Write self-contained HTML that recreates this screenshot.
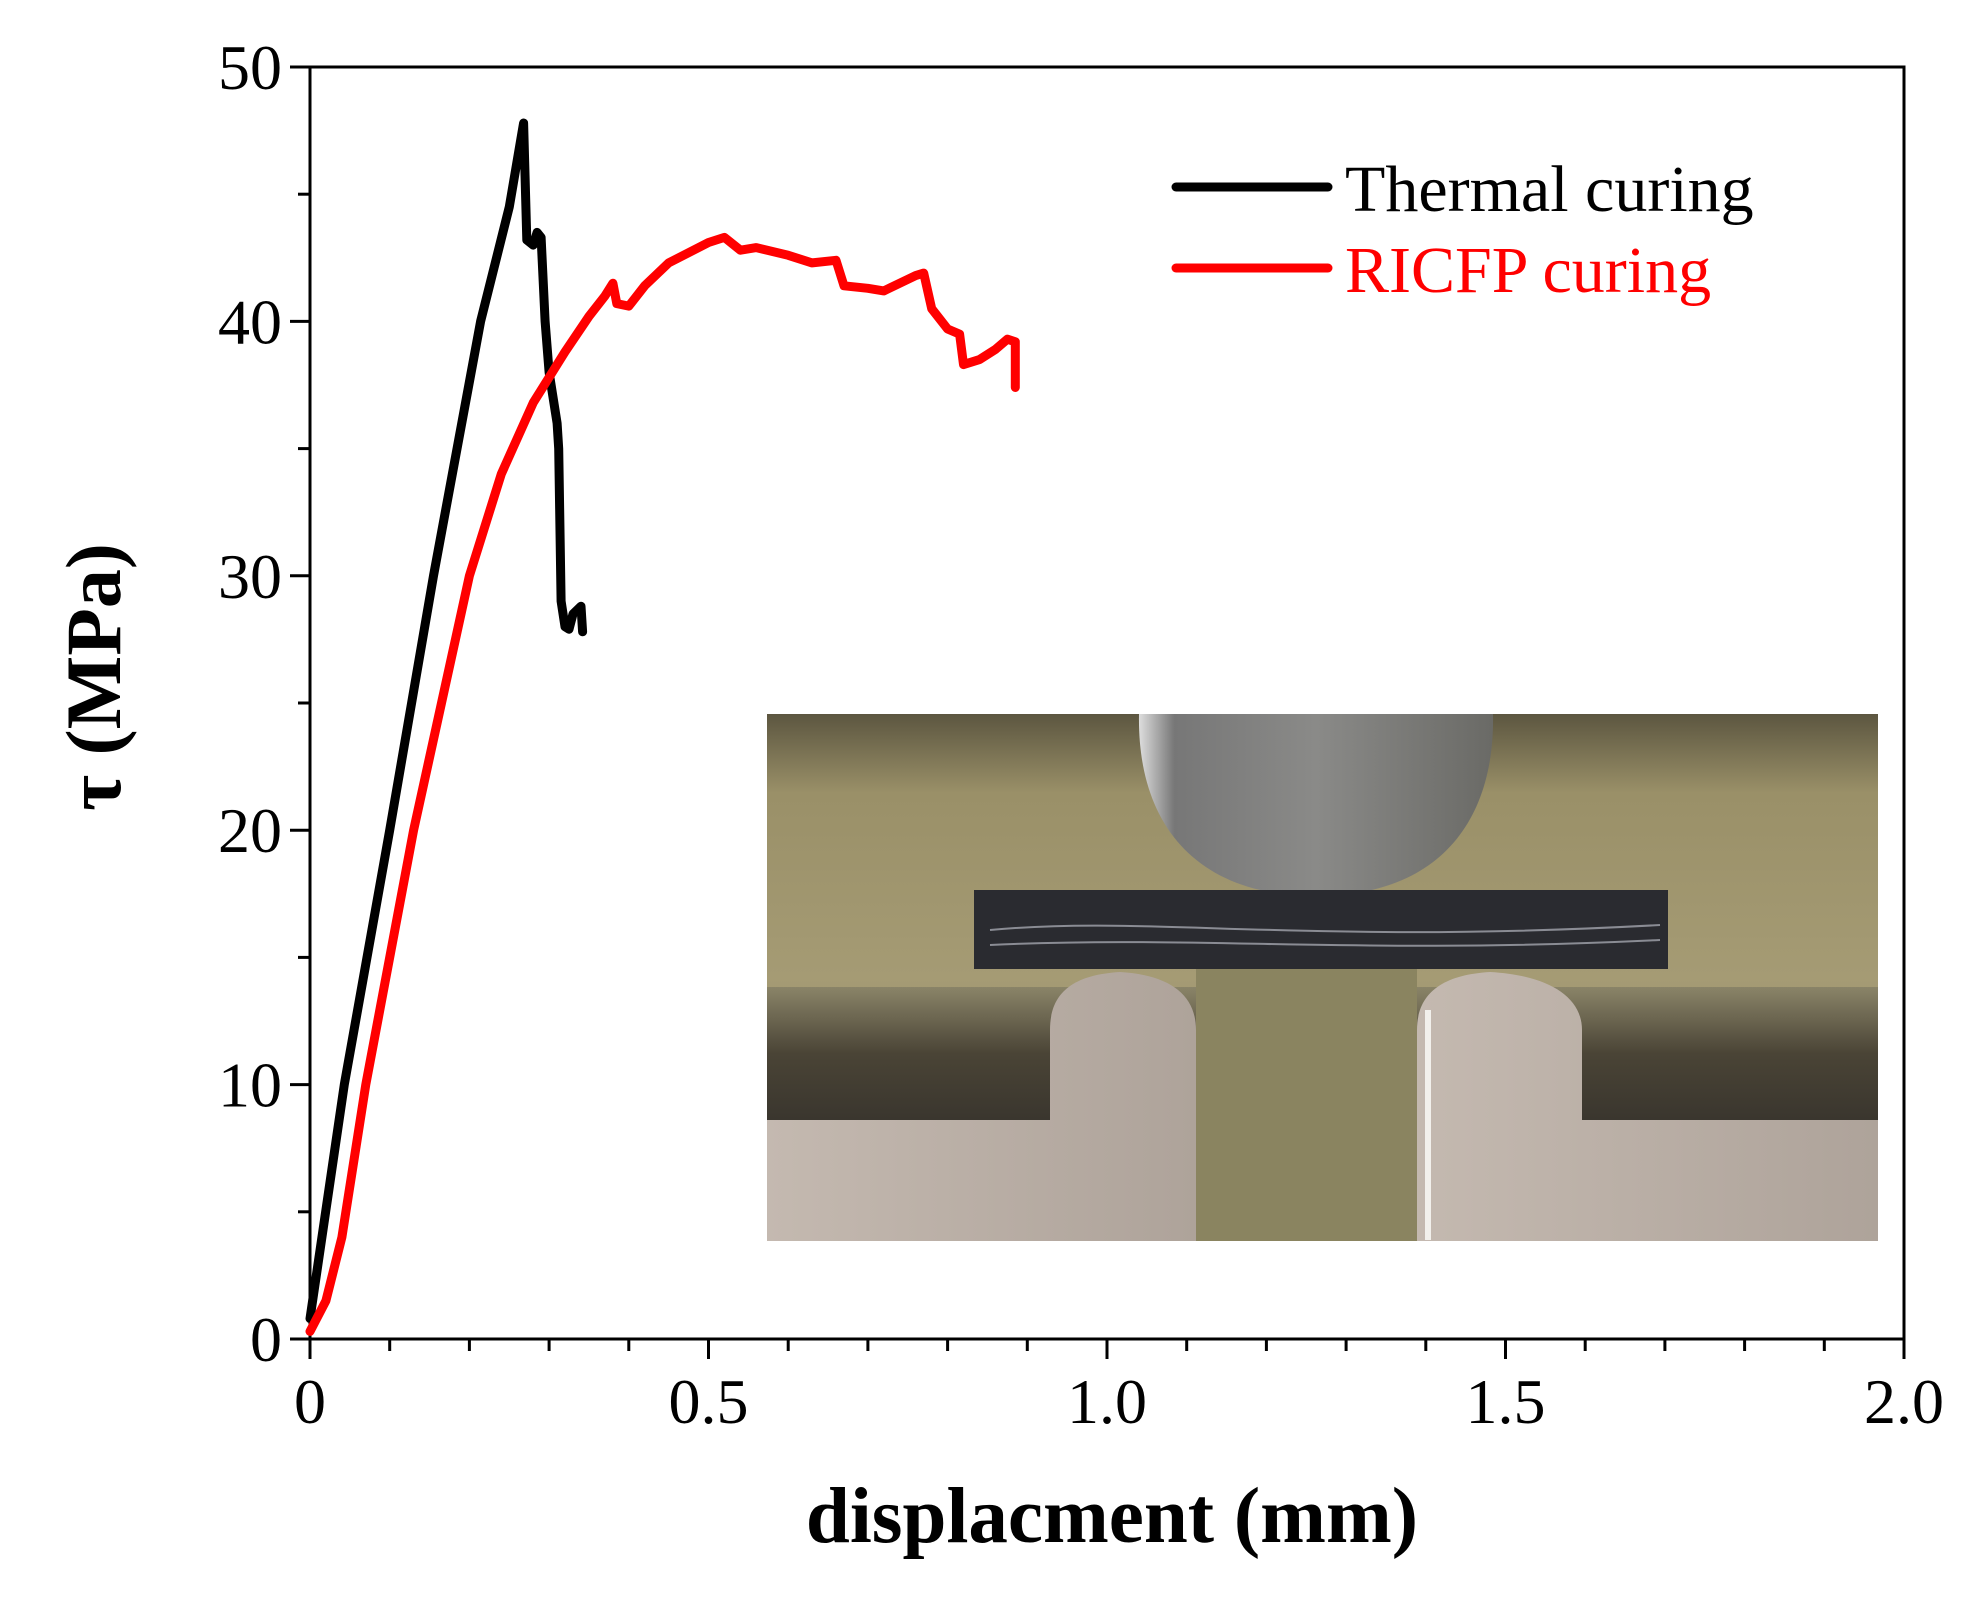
<!DOCTYPE html>
<html><head><meta charset="utf-8"><style>
html,body{margin:0;padding:0;background:#fff;}
svg{display:block;}
text{font-family:"Liberation Serif",serif;}
</style></head><body>
<svg id="chart" width="1984" height="1599" viewBox="0 0 1984 1599" xmlns="http://www.w3.org/2000/svg">
<defs>
<linearGradient id="bg" x1="0" y1="0" x2="0" y2="1"><stop offset="0" stop-color="#5c5640"/><stop offset="0.15" stop-color="#9a9068"/><stop offset="0.5" stop-color="#a59b74"/><stop offset="1" stop-color="#8c8460"/></linearGradient>
<linearGradient id="band" x1="0" y1="0" x2="0" y2="1"><stop offset="0" stop-color="#8a8468"/><stop offset="0.5" stop-color="#4a4436"/><stop offset="1" stop-color="#3a362e"/></linearGradient>
<linearGradient id="nose" x1="0" y1="0" x2="1" y2="0"><stop offset="0" stop-color="#ddd"/><stop offset="0.1" stop-color="#777"/><stop offset="0.5" stop-color="#8a8a88"/><stop offset="1" stop-color="#6a6a66"/></linearGradient>
<linearGradient id="metal" x1="0" y1="0" x2="1" y2="0"><stop offset="0" stop-color="#c4b9b0"/><stop offset="1" stop-color="#aea39a"/></linearGradient>
</defs>
<g id="inset-photo">
<rect x="767" y="714" width="1111" height="527" fill="url(#bg)"/>
<rect x="767" y="987" width="1111" height="133" fill="url(#band)"/>
<rect x="1196" y="960" width="221" height="281" fill="#8a8460"/>
<path d="M1139,714 L1493,714 C1495,820 1440,896 1316,896 C1192,896 1137,820 1139,714Z" fill="url(#nose)"/>
<rect x="974" y="890" width="694" height="79" fill="#2a2b30"/>
<path d="M990,930 C1150,915 1300,945 1660,925 M990,945 C1200,935 1350,955 1660,940" stroke="#8a8c94" stroke-width="2" fill="none"/>
<path d="M767,1120 L1050,1120 L1050,1030 C1050,995 1070,975 1120,972 C1170,975 1196,995 1196,1030 L1196,1241 L767,1241Z" fill="url(#metal)"/>
<path d="M1417,1241 L1417,1030 C1417,995 1440,975 1490,972 C1545,975 1582,995 1582,1030 L1582,1120 L1878,1120 L1878,1241Z" fill="url(#metal)"/>
<rect x="1425" y="1010" width="6" height="230" fill="#f2f0ec"/>
</g>
<g id="axes"></g>
<g id="series"></g>
<g id="legend">
<line x1="1176" y1="187" x2="1328" y2="187" stroke="#000" stroke-width="9" stroke-linecap="round"/>
<text x="1345" y="211" font-size="66" fill="#000">Thermal curing</text>
<line x1="1176" y1="268" x2="1328" y2="268" stroke="#ff0000" stroke-width="9" stroke-linecap="round"/>
<text x="1345" y="292" font-size="66" fill="#ff0000">RICFP curing</text>
</g>
<text x="1112" y="1542" font-size="79" font-weight="bold" text-anchor="middle">displacment (mm)</text>
<text transform="translate(120,677) rotate(-90)" font-size="78" font-weight="bold" text-anchor="middle">τ (MPa)</text>
</svg>
<script>
const xTicks = [0, 0.5, 1.0, 1.5, 2.0];
const xTickLabels = ["0", "0.5", "1.0", "1.5", "2.0"];
const yTicks = [0, 10, 20, 30, 40, 50];
const yTickLabels = ["0", "10", "20", "30", "40", "50"];
const thermalX = [0,0.043,0.1,0.155,0.214,0.25,0.268,0.272,0.28,0.285,0.29,0.295,0.3,0.31,0.312,0.315,0.32,0.325,0.33,0.34,0.342];
const thermalY = [0.8,10,20,30,40,44.5,47.8,43.2,43,43.5,43.3,40,38,36,35,29,28,27.9,28.5,28.8,27.8];
const ricfpX = [0,0.02,0.04,0.07,0.1,0.13,0.165,0.2,0.24,0.28,0.32,0.35,0.37,0.38,0.385,0.4,0.42,0.45,0.5,0.52,0.54,0.56,0.6,0.63,0.66,0.67,0.7,0.72,0.76,0.77,0.78,0.8,0.815,0.82,0.84,0.86,0.875,0.885,0.885];
const ricfpY = [0.3,1.5,4,10,15,20,25,30,34,36.8,38.8,40.2,41,41.5,40.7,40.6,41.4,42.3,43.1,43.3,42.8,42.9,42.6,42.3,42.4,41.4,41.3,41.2,41.8,41.9,40.5,39.7,39.5,38.3,38.5,38.9,39.3,39.2,37.4];

const NS = "http://www.w3.org/2000/svg";
const X0 = 310, X1 = 1904, Y0 = 1339, Y1 = 67;
function sx(v){ return X0 + (v - 0) / 2 * (X1 - X0); }
function sy(v){ return Y0 - (v - 0) / 50 * (Y0 - Y1); }
function mk(tag, attrs, parent){ const e = document.createElementNS(NS, tag); for (const k in attrs) e.setAttribute(k, attrs[k]); parent.appendChild(e); return e; }

const axes = document.getElementById('axes');
const frame = mk('rect', {x:X0, y:Y1, width:X1-X0, height:Y0-Y1, fill:'none', stroke:'#000', 'stroke-width':3}, axes);


for (let i = 0; i <= 20; i++) {
  const v = i * 0.1, major = i % 5 === 0;
  const t = mk('line', {x1:sx(v), y1:Y0, x2:sx(v), y2:Y0 + (major ? 20 : 12), stroke:'#000', 'stroke-width':3}, axes);
  
  
}
for (let i = 0; i <= 10; i++) {
  const v = i * 5, major = i % 2 === 0;
  const t = mk('line', {x1:X0 - (major ? 20 : 12), y1:sy(v), x2:X0, y2:sy(v), stroke:'#000', 'stroke-width':3}, axes);
  
  
}
xTicks.forEach((v, i) => {
  const t = mk('text', {x:sx(v), y:Y0 + 84, 'font-size':64, 'text-anchor':'middle'}, axes);
  t.textContent = xTickLabels[i];
  
  
});
yTicks.forEach((v, i) => {
  const t = mk('text', {x:X0 - 28, y:sy(v) + 22, 'font-size':64, 'text-anchor':'end'}, axes);
  t.textContent = yTickLabels[i];
  
  
});

const series = document.getElementById('series');
function line(xs, ys, color, name){
  const d = xs.map((x, i) => (i ? 'L' : 'M') + sx(x).toFixed(1) + ',' + sy(ys[i]).toFixed(1)).join(' ');
  const p = mk('path', {d:d, fill:'none', stroke:color, 'stroke-width':9, 'stroke-linejoin':'round', 'stroke-linecap':'round'}, series);
  
  
}
line(thermalX, thermalY, '#000', 'thermal-curing-line');
line(ricfpX, ricfpY, '#ff0000', 'ricfp-curing-line');
</script>
</body></html>
